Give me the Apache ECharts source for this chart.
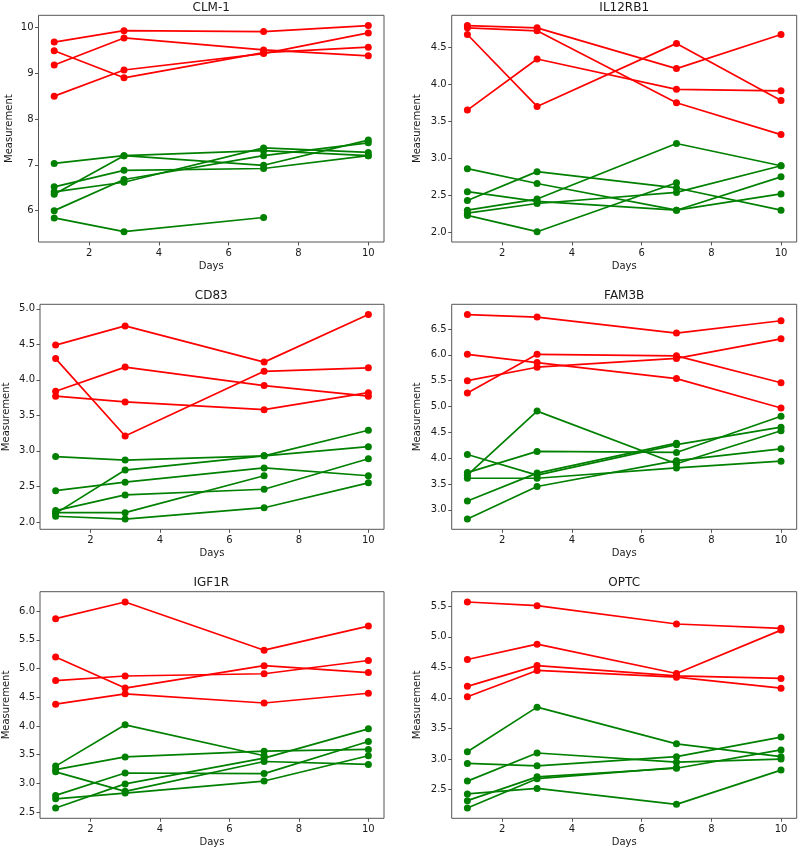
<!DOCTYPE html>
<html>
<head>
<meta charset="utf-8">
<script src="https://cdn.jsdelivr.net/npm/echarts@6/dist/echarts.min.js"></script>
<style>
  html, body { margin: 0; padding: 0; background: #fff; }
  #chart { width: 800px; height: 852px; }
</style>
</head>
<body>
<div id="chart"></div>
<script>
// ---------- DATA ----------
const days = [1, 3, 7, 10];
const xTicks = [2, 4, 6, 8, 10];
const geneNames = ['CLM-1', 'IL12RB1', 'CD83', 'FAM3B', 'IGF1R', 'OPTC'];

const clm1Red = [
  [9.68, 9.93, 9.91, 10.04],
  [9.18, 9.77, 9.51, 9.38],
  [9.49, 8.90, 9.45, 9.57],
  [8.50, 9.07, 9.43, 9.88]
];
const clm1Green = [
  [7.03, 7.20, 7.31, 7.20],
  [6.36, 7.20, 6.99, 7.54],
  [6.52, 6.88, 6.92, 7.20],
  [6.41, 6.62, 7.37, 7.27],
  [6.00, 6.68, 7.20, 7.48],
  [5.84, 5.54, 5.85, null]
];
const clm1Ticks = [6, 7, 8, 9, 10];

const il12rb1Red = [
  [3.65, 4.34, 3.93, 3.91],
  [4.67, 3.70, 4.55, 3.78],
  [4.79, 4.76, 4.21, 4.67],
  [4.76, 4.72, 3.75, 3.32]
];
const il12rb1Green = [
  [2.43, 2.82, 2.60, 2.30],
  [2.86, 2.66, 2.30, 2.52],
  [2.55, 2.42, 2.30, 2.75],
  [2.30, 2.45, 3.20, 2.90],
  [2.26, 2.39, 2.54, 2.90],
  [2.23, 2.01, 2.67, null]
];
const il12rb1Ticks = [2.0, 2.5, 3.0, 3.5, 4.0, 4.5];

const cd83Red = [
  [4.49, 4.76, 4.25, 4.92],
  [4.30, 3.21, 4.12, 4.17],
  [3.84, 4.18, 3.92, 3.77],
  [3.77, 3.69, 3.58, 3.82]
];
const cd83Green = [
  [2.92, 2.87, 2.93, 3.06],
  [2.12, 2.73, 2.93, 3.29],
  [2.44, 2.56, 2.76, 2.65],
  [2.16, 2.38, 2.46, 2.89],
  [2.13, 2.13, 2.65, null],
  [2.08, 2.04, 2.20, 2.55]
];
const cd83Ticks = [2.0, 2.5, 3.0, 3.5, 4.0, 4.5, 5.0];

const fam3bRed = [
  [6.78, 6.73, 6.42, 6.66],
  [6.01, 5.85, 5.54, 4.97],
  [5.26, 6.01, 5.98, 5.46],
  [5.50, 5.76, 5.93, 6.31]
];
const fam3bGreen = [
  [3.72, 4.13, 4.11, 4.81],
  [3.67, 4.91, 3.89, 4.53],
  [4.07, 3.67, 4.26, 4.60],
  [3.61, 3.61, 3.81, 3.94],
  [3.17, 3.71, 4.29, null],
  [2.82, 3.45, 3.95, 4.18]
];
const fam3bTicks = [3.0, 3.5, 4.0, 4.5, 5.0, 5.5, 6.0, 6.5];

const igf1rRed = [
  [5.87, 6.16, 5.32, 5.74],
  [5.20, 4.66, 5.05, 4.93],
  [4.79, 4.87, 4.91, 5.14],
  [4.38, 4.56, 4.40, 4.57]
];
const igf1rGreen = [
  [3.30, 4.02, 3.48, null],
  [3.24, 3.46, 3.56, 3.59],
  [3.20, 2.86, 3.38, 3.33],
  [2.79, 3.18, 3.17, 3.73],
  [2.73, 2.83, 3.04, 3.48],
  [2.57, 2.99, 3.44, 3.95]
];
const igf1rTicks = [2.5, 3.0, 3.5, 4.0, 4.5, 5.0, 5.5, 6.0];

const optcRed = [
  [5.57, 5.51, 5.21, 5.14],
  [4.63, 4.88, 4.40, 5.11],
  [4.19, 4.53, 4.36, 4.32],
  [4.02, 4.45, 4.34, 4.16]
];
const optcGreen = [
  [3.12, 3.85, 3.25, 3.04],
  [2.64, 3.10, 2.95, 3.00],
  [2.93, 2.89, 3.04, 3.36],
  [2.43, 2.52, 2.26, 2.82],
  [2.32, 2.71, 2.85, 3.15],
  [2.20, 2.68, 2.86, null]
];
const optcTicks = [2.5, 3.0, 3.5, 4.0, 4.5, 5.0, 5.5];

// ---------- LAYOUT / STYLE ----------
const panels = [
  { red: clm1Red, green: clm1Green, ticks: clm1Ticks, dec: 0, gap: 24 },
  { red: il12rb1Red, green: il12rb1Green, ticks: il12rb1Ticks, dec: 1, gap: 29 },
  { red: cd83Red, green: cd83Green, ticks: cd83Ticks, dec: 1, gap: 29 },
  { red: fam3bRed, green: fam3bGreen, ticks: fam3bTicks, dec: 1, gap: 29 },
  { red: igf1rRed, green: igf1rGreen, ticks: igf1rTicks, dec: 1, gap: 29 },
  { red: optcRed, green: optcGreen, ticks: optcTicks, dec: 1, gap: 29 }
];
const colLeft = [38.5, 451.7];
const colWidth = [345.5, 345];
const rowTop = [15.3, 304.3, 591.7];
const rowHeight = [226.7, 225, 226.6];
const titleTop = [1.5, 289.7, 577.3];

const FONT = 'DejaVu Sans';
const TXT = '#1a1a1a';
const FRAME = '#555';
const RED = '#ff0000';
const GREEN = '#008000';

const grids = [], xAxes = [], yAxes = [], titles = [], series = [];

panels.forEach((p, i) => {
  const col = i % 2, row = Math.floor(i / 2);
  const all = p.red.concat(p.green).flat().filter(v => v != null);
  const lo = Math.min(...all), hi = Math.max(...all);
  const pad = (hi - lo) * 0.05;
  const xPad = (days[days.length - 1] - days[0]) * 0.05;

  grids.push({
    left: colLeft[col], top: rowTop[row], width: colWidth[col], height: rowHeight[row],
    show: true, borderColor: FRAME, borderWidth: 1, backgroundColor: 'transparent',
    containLabel: false
  });
  titles.push({
    text: geneNames[i],
    left: colLeft[col] + colWidth[col] / 2,
    top: titleTop[row],
    textAlign: 'center',
    padding: 0,
    textStyle: { fontFamily: FONT, fontSize: 12, fontWeight: 'normal', color: TXT }
  });
  xAxes.push({
    type: 'value', gridIndex: i,
    min: days[0] - xPad, max: days[days.length - 1] + xPad,
    name: 'Days', nameLocation: 'middle', nameGap: 19,
    nameTextStyle: { fontFamily: FONT, fontSize: 10, color: TXT },
    axisLine: { show: false },
    axisTick: { show: true, length: 3.5, lineStyle: { color: FRAME, width: 1 }, customValues: xTicks },
    axisLabel: { fontFamily: FONT, fontSize: 10, color: TXT, margin: 6, customValues: xTicks,
                 formatter: v => String(v) },
    splitLine: { show: false }
  });
  yAxes.push({
    type: 'value', gridIndex: i,
    min: lo - pad, max: hi + pad,
    name: 'Measurement', nameLocation: 'middle', nameGap: p.gap,
    nameTextStyle: { fontFamily: FONT, fontSize: 10, color: TXT },
    axisLine: { show: false },
    axisTick: { show: true, length: 3.5, lineStyle: { color: FRAME, width: 1 }, customValues: p.ticks },
    axisLabel: { fontFamily: FONT, fontSize: 10, color: TXT, margin: 5, customValues: p.ticks,
                 formatter: v => Number(v).toFixed(p.dec) },
    splitLine: { show: false }
  });

  const addLines = (groups, color) => {
    groups.forEach(vals => {
      series.push({
        type: 'line', xAxisIndex: i, yAxisIndex: i,
        data: days.map((d, k) => [d, vals[k]]).filter(pt => pt[1] != null),
        symbol: 'circle', symbolSize: 7, showSymbol: true,
        lineStyle: { color: color, width: 1.7 },
        itemStyle: { color: color, borderWidth: 0 },
        emphasis: { disabled: true },
        silent: true
      });
    });
  };
  addLines(p.green, GREEN);
  addLines(p.red, RED);
});

const chart = echarts.init(document.getElementById('chart'), null, { renderer: 'canvas' });
chart.setOption({
  animation: false,
  backgroundColor: '#fff',
  title: titles,
  grid: grids,
  xAxis: xAxes,
  yAxis: yAxes,
  series: series
});
</script>
</body>
</html>
